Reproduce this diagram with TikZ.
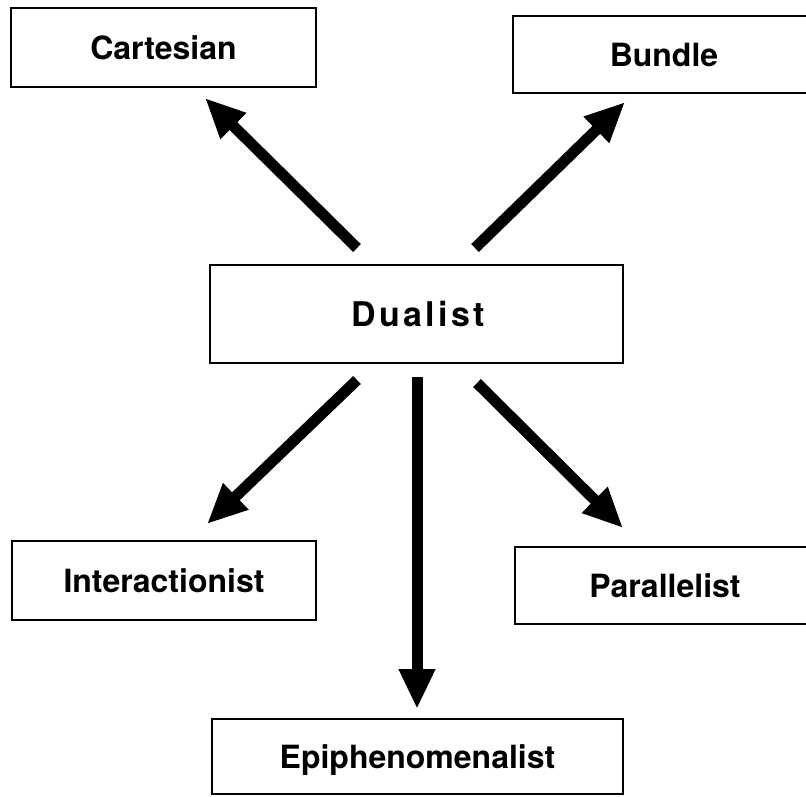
\documentclass[tikz,border=0pt]{standalone}
\usepackage{fontspec}
\setmainfont{TeX Gyre Heros}
\usetikzlibrary{arrows.meta}
\tikzset{
  box/.style={draw=black, line width=2.6pt, fill=white, inner sep=0pt,
    font=\fontsize{32}{36}\selectfont\bfseries, text height=23pt, text depth=0pt},
  arr/.style={draw=black, line width=11pt, -{Triangle[length=40pt,width=34pt]}}
}
\begin{document}
\begin{tikzpicture}[x=1pt,y=-1pt]
\useasboundingbox (0,0) rectangle (806,796);
\clip (0,0) rectangle (806,796);
\fill[white] (0,0) rectangle (806,796);
\node[box, minimum width=305pt, minimum height=79pt] (cart) at (163.5,47.5) {Cartesian};
\node[box, minimum width=302pt, minimum height=77pt] (bund) at (664,54.5) {Bundle};
\node[box, minimum width=413pt, minimum height=98pt, text height=25pt,
  font=\fontsize{34}{38}\selectfont\bfseries] (dual) at (416.5,314) {\addfontfeature{LetterSpace=10}Dualist\kern-3.4pt};
\node[box, minimum width=304pt, minimum height=79pt] (inter) at (164,580.5) {Interactionist};
\node[box, minimum width=300pt, minimum height=77pt] (para) at (665,585.5) {Parallelist};
\node[box, minimum width=411pt, minimum height=75pt] (epi) at (417.5,756.5) {Epiphenomenalist};
\coordinate (cs) at (357,248); \coordinate (ce) at (205,98);
\coordinate (bs) at (475,248); \coordinate (be) at (625,102);
\coordinate (is) at (357,380); \coordinate (ie) at (207,524);
\coordinate (es) at (417,377); \coordinate (ee) at (417,709);
\coordinate (ps) at (477,383); \coordinate (pe) at (623,528);
\draw[arr] (cs) -- (ce);
\draw[arr] (bs) -- (be);
\draw[arr] (is) -- (ie);
\draw[arr] (es) -- (ee);
\draw[arr] (ps) -- (pe);
\end{tikzpicture}
\end{document}
